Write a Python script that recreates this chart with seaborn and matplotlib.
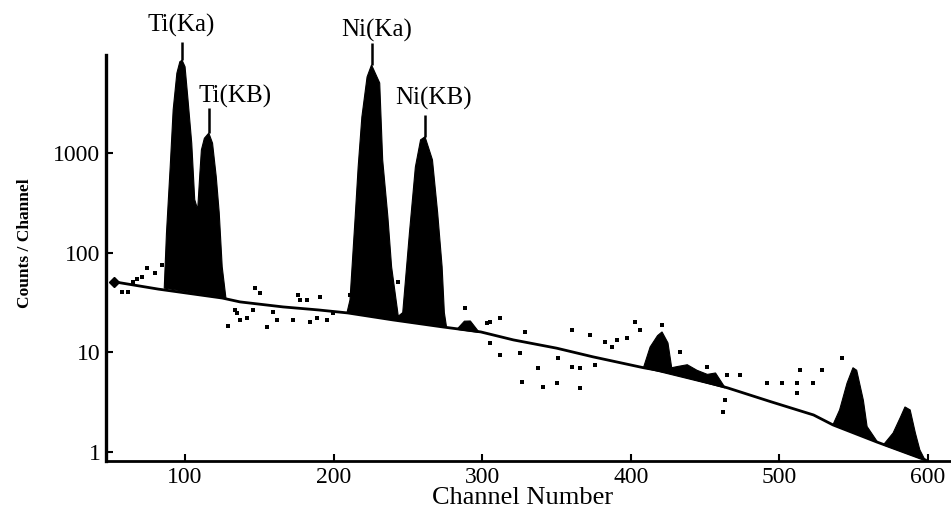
import numpy as np
import pandas as pd
import seaborn as sns
import matplotlib
matplotlib.use("Agg")
import matplotlib.pyplot as plt

# continuum (background)
cont_ch = [52, 82, 125, 137, 166, 189.5, 209.5, 240, 274, 299, 321, 350, 374.5, 408.5, 428.5, 465, 494, 523, 536, 565.5, 598.5]
cont_counts = [51, 43, 35, 32, 28.5, 26.6, 24.8, 21.1, 17.9, 16, 13.3, 11, 9.0, 7.0, 6.2, 4.4, 3.2, 2.35, 1.87, 1.26, 0.83]

# Ti K-alpha / K-beta doublet
ti_ch = [86, 87.5, 90, 92, 94.5, 96.5, 98, 100, 102, 104.5, 106.5, 108.5, 110, 111, 113, 116, 118.5, 121, 123, 125, 127.5]
ti_counts = [44, 157, 720, 2700, 6300, 8200, 8500, 7300, 3400, 1250, 340, 270, 630, 1070, 1400, 1580, 1250, 575, 250, 72, 35]

# Ni K-alpha / K-beta doublet
ni_ch = [209, 211, 214.5, 216.5, 219, 222.5, 225.5, 231, 233, 236.5, 239, 243.5, 246.5, 251, 255, 258.5, 261.5, 266.5, 270, 273, 274.5, 276]
ni_counts = [25, 33.5, 228, 720, 2290, 5770, 7620, 5020, 850, 228, 72, 23, 25, 157, 720, 1350, 1450, 850, 250, 72, 25, 17.8]

# small peaks further up
p285_ch = [283, 288, 292, 298]
p285_counts = [17, 20.5, 20.6, 15.8]
p415_ch = [408.5, 413, 418, 421, 425, 427.5, 431.5, 438, 444.5, 451.5, 457, 463.5]
p415_counts = [7.0, 11.3, 14.7, 16, 12.4, 7.0, 7.2, 7.5, 6.6, 6.0, 6.2, 4.4]
p546_ch = [536, 540.5, 545.5, 549.5, 552, 556.5, 559, 566]
p546_counts = [1.87, 2.64, 4.9, 7.0, 6.6, 3.3, 1.8, 1.26]
p585_ch = [570, 576.5, 581.5, 584.5, 588, 591.5, 594.5, 598]
p585_counts = [1.18, 1.55, 2.24, 2.83, 2.64, 1.55, 1.05, 0.83]

# thin spikes on the tops of the main lines
spike_ch = [98, 116, 225.5, 261.5]
spike_lo = [8500, 1580, 7620, 1450]
spike_hi = [12900, 2840, 12650, 2400]
peak_names = ["Ti(Ka)", "Ti(KB)", "Ni(Ka)", "Ni(KB)"]

# scattered single counts
noise_ch = [57.6, 61.7, 65.0, 67.7, 71.0, 74.5, 79.8, 84.5, 147.1, 150.4, 133.7, 135.0, 141.7, 137.0,
            145.7, 128.9, 155.1, 159.2, 161.9, 172.6, 177.4, 182.1, 184.1, 188.8, 195.5, 190.8, 199.6,
            176.1, 211.0, 243.3, 288.4, 303.2, 305.2, 311.9, 305.2, 311.9, 328.8, 325.4, 337.6, 326.8,
            340.9, 350.3, 365.8, 351.0, 360.5, 365.8, 360.5, 372.5, 376.0, 382.7, 387.4, 390.7, 397.5,
            402.8, 406.2, 421.0, 433.1, 451.3, 464.8, 473.5, 463.4, 462.1, 491.6, 501.8, 511.9, 522.6,
            514.0, 528.7, 542.2, 511.9]
noise_counts = [40.3, 40.3, 50.7, 54.4, 56.9, 70.1, 62.4, 75.1, 44.2, 39.3, 26.6, 24.8, 22.1, 21.1,
                26.6, 18.4, 17.9, 25.4, 21.1, 21.1, 33.5, 33.5, 20.1, 22.1, 21.1, 35.9, 24.8,
                37.6, 37.6, 50.7, 27.8, 19.7, 12.4, 9.4, 20.1, 22.1, 16.0, 9.8, 6.96, 5.04,
                4.49, 4.92, 4.38, 8.8, 7.1, 6.96, 16.7, 14.9, 7.5, 12.7, 11.3, 13.3, 13.9,
                20.1, 16.7, 18.8, 10.1, 7.1, 5.9, 5.9, 3.32, 2.52, 4.92, 4.92, 4.92, 4.92,
                6.64, 6.64, 8.8, 3.91]

sns.set_style("ticks")
plt.rcParams['font.family'] = ['Liberation Serif', 'DejaVu Serif']
plt.rcParams['text.color'] = 'black'
plt.rcParams['axes.labelcolor'] = 'black'
plt.rcParams['xtick.color'] = 'black'
plt.rcParams['ytick.color'] = 'black'

fig = plt.figure(figsize=(9.51, 5.14), dpi=100)
ax = fig.add_axes([106 / 951, 53 / 514, 844 / 951, 456 / 514])
ax.set_yscale('log')

for ch, ct in [(ti_ch, ti_counts), (ni_ch, ni_counts), (p285_ch, p285_counts),
               (p415_ch, p415_counts), (p546_ch, p546_counts), (p585_ch, p585_counts)]:
    ax.fill(ch, ct, color='black', linewidth=0.8, edgecolor='black')

cont = pd.DataFrame({'channel': cont_ch, 'counts': cont_counts})
sns.lineplot(data=cont, x='channel', y='counts', color='black', linewidth=2.0,
             estimator=None, sort=False, ax=ax)
sns.scatterplot(x=noise_ch, y=noise_counts, color='black', marker='s', s=5,
                linewidth=0, ax=ax)
ax.plot([cont_ch[0]], [cont_counts[0]], marker='D', color='black', markersize=5)

ax.vlines(spike_ch, spike_lo, spike_hi, color='black', linewidth=1.8)

label_pos = [(97.3, 18750), (133.7, 3640), (229.2, 16700), (266.9, 3550)]
for name, (lx, ly) in zip(peak_names, label_pos):
    ax.text(lx, ly, name, ha='center', va='center', fontsize=18)

ax.set_xlim(46.8, 614.8)
ax.set_ylim(0.812, 30400)
ax.set_xticks([100, 200, 300, 400, 500, 600])
ax.set_xticklabels(['100', '200', '300', '400', '500', '600'])
ax.set_yticks([1, 10, 100, 1000])
ax.set_yticklabels(['1', '10', '100', '1000'])
ax.minorticks_off()
ax.tick_params(direction='in', length=5, width=1.5, labelsize=17, pad=4)

sns.despine(ax=ax)
ax.spines['left'].set_bounds(0.812, 9600)
ax.spines['left'].set_linewidth(2.4)
ax.spines['bottom'].set_linewidth(2.0)
ax.spines['left'].set_color('black')
ax.spines['bottom'].set_color('black')

ax.set_xlabel('Channel Number', fontsize=19, va='top')
ax.xaxis.set_label_coords(0.494, -0.057)
ax.set_ylabel('Counts / Channel', fontsize=12.5, fontweight='bold')
ax.yaxis.set_label_coords(-0.0865, 0.478)

fig.savefig('out.png', dpi=100)
